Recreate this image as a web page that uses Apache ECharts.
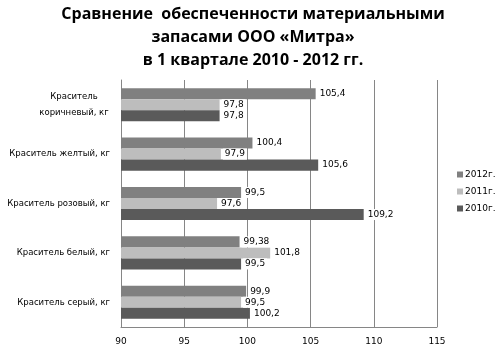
<!DOCTYPE html>
<html>
<head>
<meta charset="utf-8">
<script src="https://cdn.jsdelivr.net/npm/echarts@6/dist/echarts.min.js"></script>
<style>
  html, body { margin: 0; padding: 0; background: #fff; }
  #chart { width: 498px; height: 353px; }
</style>
</head>
<body>
<div id="chart"></div>
<script>
var categories = ['Краситель\nкоричневый, кг', 'Краситель желтый, кг', 'Краситель розовый, кг', 'Краситель белый, кг', 'Краситель серый, кг'];
var seriesNames = ['2012г.', '2011г.', '2010г.'];
var data2012 = [105.4, 100.4, 99.5, 99.38, 99.9];
var data2011 = [97.8, 97.9, 97.6, 101.8, 99.5];
var data2010 = [97.8, 105.6, 109.2, 99.5, 100.2];
var colors = ['#808080', '#bdbdbd', '#5a5a5a'];

var chart = echarts.init(document.getElementById('chart'));

function makeSeries(name, values) {
  return {
    name: name,
    type: 'bar',
    data: values,
    barGap: '0%',
    barCategoryGap: '33%',
    label: {
      show: true,
      position: 'right',
      distance: 2,
      color: '#000',
      fontFamily: 'DejaVu Sans',
      fontSize: 9,
      backgroundColor: '#fff',
      padding: [1, 2],
      formatter: function (p) { return String(p.value).replace('.', ','); }
    }
  };
}

var option = {
  backgroundColor: '#ffffff',
  color: colors,
  animation: false,
  title: {
    text: 'Сравнение  обеспеченности материальными\nзапасами ООО «Митра»\nв 1 квартале 2010 - 2012 гг.',
    left: 248,
    textAlign: 'center',
    top: -2,
    textStyle: {
      fontFamily: 'Open Sans',
      fontWeight: 'bold',
      fontSize: 16,
      lineHeight: 23,
      color: '#000'
    }
  },
  legend: {
    orient: 'vertical',
    left: 452,
    top: 165,
    itemWidth: 6,
    itemHeight: 6,
    itemGap: 8,
    icon: 'rect',
    data: seriesNames,
    textStyle: { fontFamily: 'DejaVu Sans', fontSize: 9, color: '#000', padding: [0, 0, 0, -3] }
  },
  grid: {
    left: 121,
    right: 61,
    top: 80,
    bottom: 26,
    containLabel: false
  },
  xAxis: {
    type: 'value',
    min: 90,
    max: 115,
    interval: 5,
    axisLine: { show: true, lineStyle: { color: '#868686' } },
    axisTick: { show: false },
    axisLabel: { fontFamily: 'DejaVu Sans', fontSize: 9, color: '#000', margin: 10 },
    splitLine: { show: true, lineStyle: { color: '#868686', width: 1 } }
  },
  yAxis: {
    type: 'category',
    inverse: true,
    data: categories,
    axisLine: { show: true, lineStyle: { color: '#868686' } },
    axisTick: { show: false },
    axisLabel: {
      fontFamily: 'DejaVu Sans',
      fontSize: 8.5,
      color: '#000',
      margin: 11,
      lineHeight: 17,
      align: 'right',
      formatter: function (v) {
        if (v.indexOf('\n') < 0) return v;
        return v.split('\n').map(function (s) { return '{c|' + s + '}'; }).join('\n');
      },
      rich: {
        c: {
          fontFamily: 'DejaVu Sans',
          fontSize: 8.5,
          color: '#000',
          width: 72,
          align: 'center',
          lineHeight: 16
        }
      }
    }
  },
  series: [
    makeSeries(seriesNames[0], data2012),
    makeSeries(seriesNames[1], data2011),
    makeSeries(seriesNames[2], data2010)
  ]
};

chart.setOption(option);
</script>
</body>
</html>
